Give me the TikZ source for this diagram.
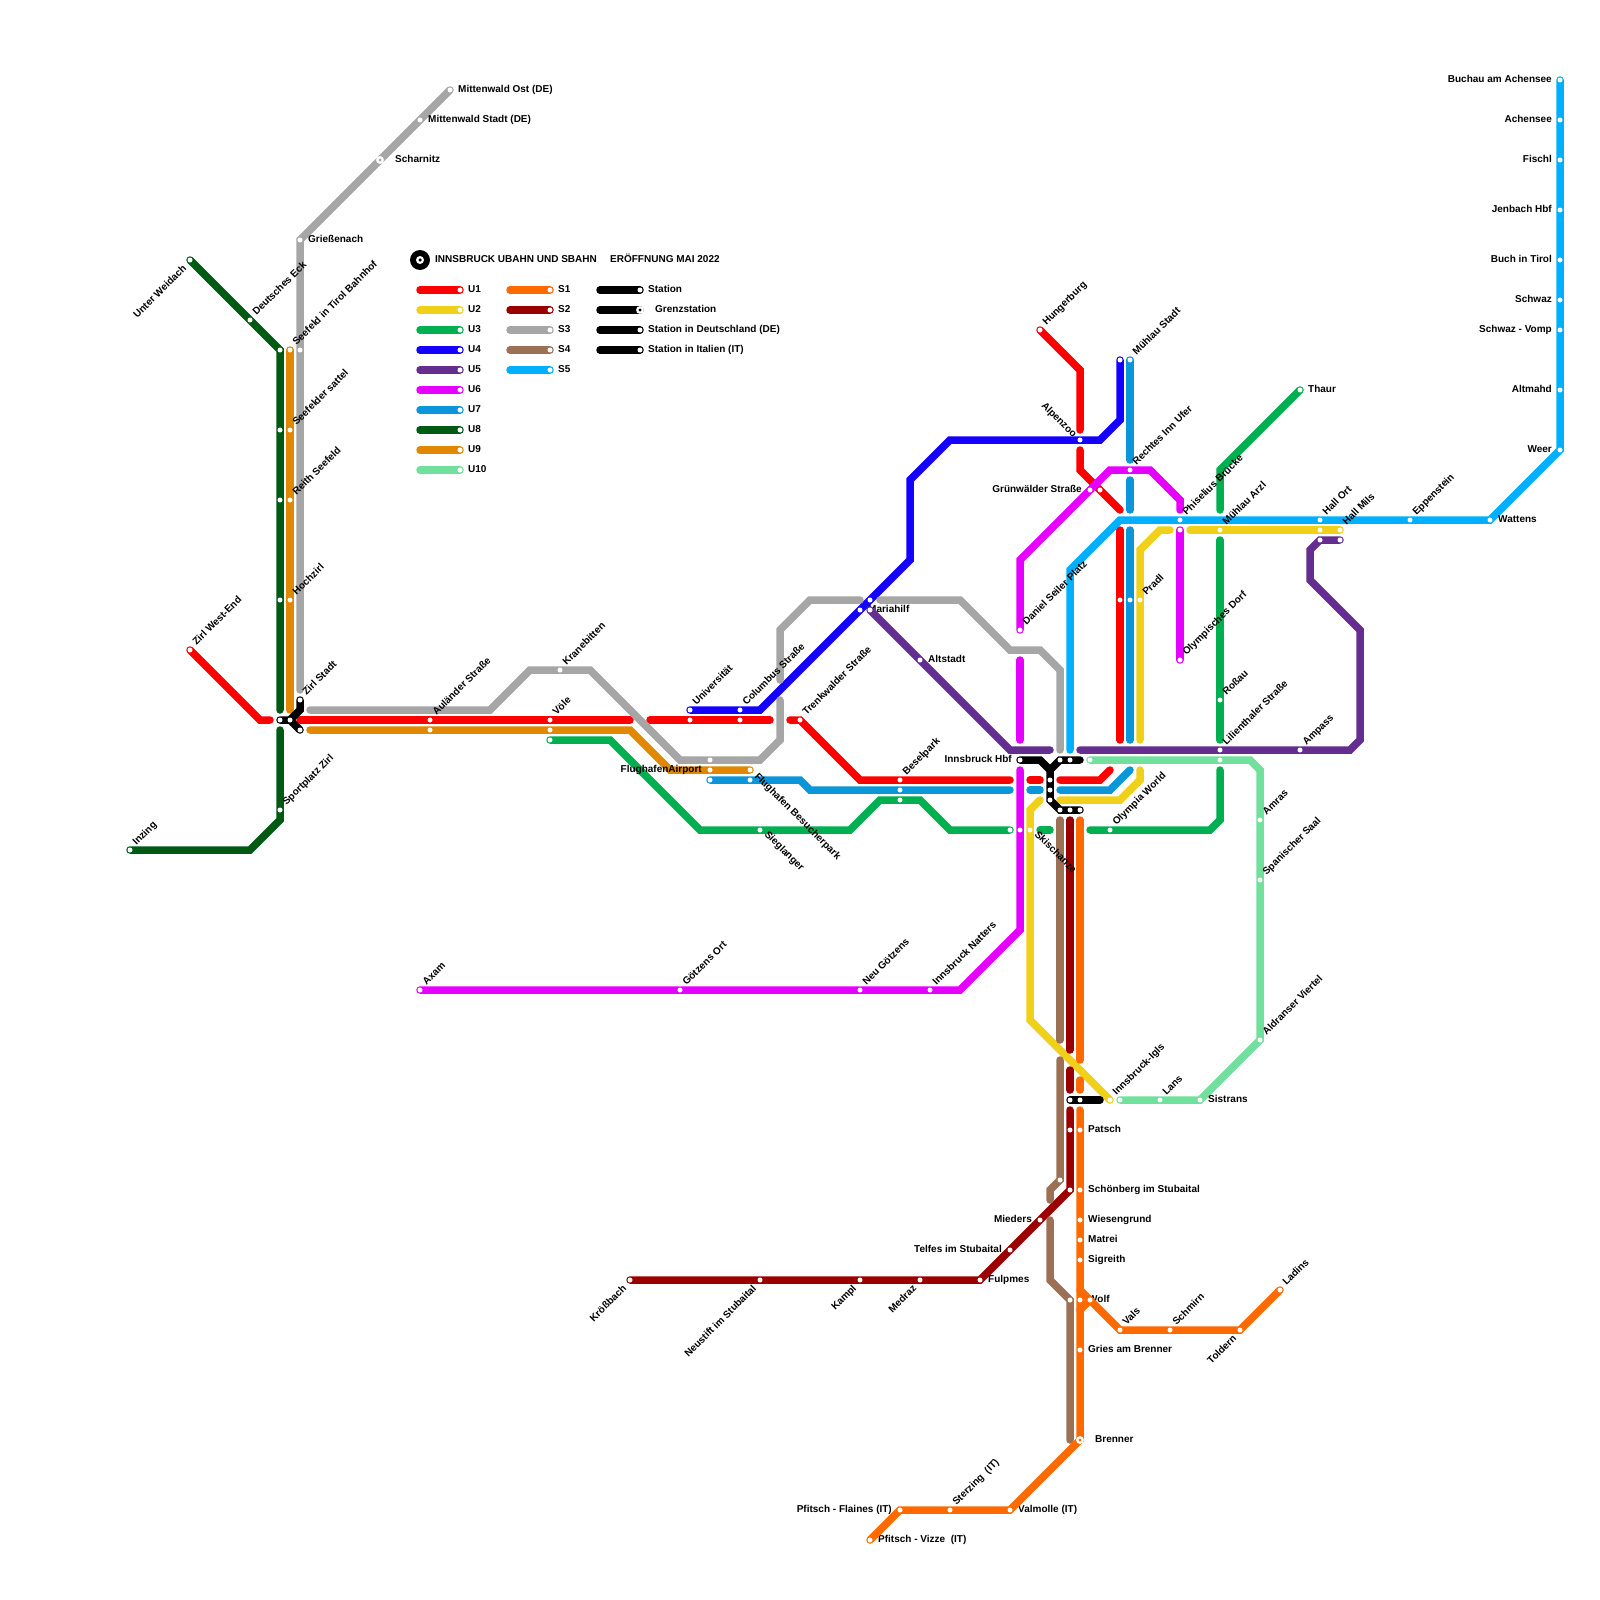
\documentclass[tikz,border=0pt]{standalone}
\usepackage{fontspec}
\setmainfont{Liberation Sans}
\definecolor{U1}{HTML}{FF0000}
\definecolor{U2}{HTML}{F0D018}
\definecolor{U3}{HTML}{00B050}
\definecolor{U4}{HTML}{1400FF}
\definecolor{U5}{HTML}{662D91}
\definecolor{U6}{HTML}{E600FF}
\definecolor{U7}{HTML}{0A96D8}
\definecolor{U8}{HTML}{005A14}
\definecolor{U9}{HTML}{E08800}
\definecolor{U10}{HTML}{70E09C}
\definecolor{S1}{HTML}{FF6A00}
\definecolor{S2}{HTML}{9B0000}
\definecolor{S3}{HTML}{A6A6A6}
\definecolor{S4}{HTML}{9C7055}
\definecolor{S5}{HTML}{00B0FF}
\pgfdeclarelayer{lines}
\pgfdeclarelayer{labels}
\pgfdeclarelayer{toplines}
\pgfsetlayers{lines,labels,toplines,main}
\tikzset{
  ln/.style={line width=7.5pt, line cap=round, draw=#1},
  stn/.style={circle, fill=white, inner sep=0pt, minimum size=5pt},
  grenz/.style={circle, draw=white, fill=#1, line width=2.2pt, inner sep=0pt, minimum size=5.5pt},
  lbl/.style={font=\bfseries\fontsize{10}{12}\selectfont, inner sep=0pt, text=black},
  lblr/.style={lbl, shift={(8pt,-2.8pt)}, anchor=base west},
  lblrr/.style={lbl, shift={(15pt,-2.8pt)}, anchor=base west},
  lbll/.style={lbl, shift={(-8pt,-2.8pt)}, anchor=base east},
  lblne/.style={lbl, shift={(6.5pt,4pt)}, rotate=45, anchor=base west},
  lblse/.style={lbl, shift={(4pt,3pt)}, rotate=-45, anchor=base west},
  lblsel/.style={lbl, shift={(4pt,-5pt)}, rotate=-45, anchor=base west},
  lblsw/.style={lbl, shift={(-3pt,-9pt)}, rotate=45, anchor=base east},
  lblnw/.style={lbl, shift={(-7pt,2pt)}, rotate=-45, anchor=base east},
}
\begin{document}
\begin{tikzpicture}[x=1pt, y=-1pt]
\useasboundingbox (0,0) rectangle (1600,1600);

% stations with a name on the map
\foreach \nm/\x/\y/\sty/\txt in {
  inzing/130/850/lblne/Inzing, sportplatz/280/810/lblne/Sportplatz Zirl, deutsch/250/320/lblne/Deutsches Eck,
  weidach/190/260/lblsw/Unter Weidach, zirlwest/190/650/lblne/Zirl West-End, zirlstadt/300/700/lblne/Zirl Stadt,
  seefeld/290/350/lblne/Seefeld in Tirol Bahnhof, sattel/290/430/lblne/Seefelder sattel,
  reith/290/500/lblne/Reith Seefeld, hochzirl/290/600/lblne/Hochzirl,
  mittost/450/90/lblr/Mittenwald Ost (DE), mittstadt/420/120/lblr/Mittenwald Stadt (DE), griessen/300/240/lblr/Grießenach,
  auland/430/720/lblne/Auländer Straße, voele/550/720/lblne/Völe, krane/560/670/lblne/Kranebitten,
  uni/690/710/lblne/Universität, columbus/740/710/lblne/Columbus Straße, trenk/800/720/lblne/Trenkwalder Straße,
  flug/710/770/lbll/FlughafenAirport, besuch/750/780/lblse/Flughafen Besucherpark, sieg/760/830/lblsel/Sieglanger,
  blumar/860/610/lblr/Mariahilf, altstadt/920/660/lblr/Altstadt, besel/900/780/lblne/Beselpark,
  axam/420/990/lblne/Axam, goetzens/680/990/lblne/Götzens Ort, neugoe/860/990/lblne/Neu Götzens, natters/930/990/lblne/Innsbruck Natters,
  hbf/1020/760/lbll/Innsbruck Hbf, ski/1030/830/lblsel/Skischanze, olympia/1110/830/lblne/Olympia World,
  daniel/1020/630/lblne/Daniel Seiler Platz, gruen/1090/490/lbll/Grünwälder Straße, alpen/1080/440/lblnw/Alpenzoo,
  hunger/1040/330/lblne/Hungerburg, muehlst/1130/360/lblne/Mühlau Stadt, rechtes/1130/470/lblne/Rechtes Inn Ufer,
  phis/1180/520/lblne/Phiselius Brücke, arzl/1220/530/lblne/Mühlau Arzl, hallort/1320/520/lblne/Hall Ort, hallmils/1340/530/lblne/Hall Mils,
  eppen/1410/520/lblne/Eppenstein, thaur/1300/390/lblr/Thaur, wattens/1490/520/lblr/Wattens, pradl/1140/600/lblne/Pradl,
  olydorf/1180/660/lblne/Olympisches Dorf, rossau/1220/700/lblne/Roßau, lili/1220/750/lblne/Lilienthaler Straße, ampass/1300/750/lblne/Ampass,
  amras/1260/820/lblne/Amras, spanisch/1260/880/lblne/Spanischer Saal, aldrans/1260/1040/lblne/Aldranser Viertel,
  sistrans/1200/1100/lblr/Sistrans, lans/1160/1100/lblne/Lans, igls/1110/1100/lblne/Innsbruck-Igls,
  patsch/1080/1130/lblr/Patsch, schoen/1080/1190/lblr/Schönberg im Stubaital, wiesen/1080/1220/lblr/Wiesengrund,
  matrei/1080/1240/lblr/Matrei, sigreith/1080/1260/lblr/Sigreith, wolf/1080/1300/lblr/Wolf, griesbr/1080/1350/lblr/Gries am Brenner,
  vals/1120/1330/lblne/Vals, schmirn/1170/1330/lblne/Schmirn, toldern/1240/1330/lblsw/Toldern, ladins/1280/1290/lblne/Ladins,
  valmolle/1010/1510/lblr/Valmolle (IT), sterzing/950/1510/lblne/Sterzing \ (IT), flaines/900/1510/lbll/Pfitsch - Flaines (IT), vizze/870/1540/lblr/Pfitsch - Vizze \ (IT),
  mieders/1040/1220/lbll/Mieders, telfes/1010/1250/lbll/Telfes im Stubaital, fulpmes/980/1280/lblr/Fulpmes,
  medraz/920/1280/lblsw/Medraz, kampl/860/1280/lblsw/Kampl, neustift/760/1280/lblsw/Neustift im Stubaital, kroess/630/1280/lblsw/Krößbach,
  buchau/1560/80/lbll/Buchau am Achensee, achensee/1560/120/lbll/Achensee, fischl/1560/160/lbll/Fischl, jenbach/1560/210/lbll/Jenbach Hbf,
  buch/1560/260/lbll/Buch in Tirol, schwaz/1560/300/lbll/Schwaz, vomp/1560/330/lbll/Schwaz - Vomp, altmahd/1560/390/lbll/Altmahd, weer/1560/450/lbll/Weer}{
  \node[stn] (\nm) at (\x,\y) {};
  \begin{pgfonlayer}{labels}
    \node[\sty] (\nm-txt) at (\nm) {\txt};
  \end{pgfonlayer}
}
% the other dots
\foreach \nm/\x/\y in {
  eightsee/280/350, eightsat/280/430, eightrei/280/500, eighthoc/280/600, threesee/300/350,
  zirla/280/720, zirlb/290/720, zirlc/300/730, nineaul/430/730, nineve/550/730, threeve/550/740,
  oneuni/690/720, onecol/740/720, threefl/710/760, nineflb/750/770, sevenfl/710/780,
  blumarb/870/600, purmar/870/610, sevenbes/900/790, threebes/900/800, onegruen/1100/490,
  hbfa/1060/760, hbfb/1070/760, hbfc/1050/780, hbfd/1050/790, hbfe/1050/800, hbff/1060/810, hbfg/1070/810, hbfh/1080/810,
  greenski/1010/830, sixski/1020/830, tenhbf/1090/760, tenlili/1220/760, tenigls/1120/1100,
  oneprad/1120/600, sevenprad/1130/600, fourmuehl/1120/360, sixphis/1180/530, twohall/1320/530, fivehall/1320/540, fivemils/1340/540,
  iglsa/1070/1100, iglsb/1080/1100, twopatsch/1070/1130, twoschoen/1070/1190, brownschoen/1060/1180, wolfa/1070/1300, wolfb/1090/1300}{
  \node[stn] (\nm) at (\x,\y) {};
}
\node[grenz=S3] (scharnitz) at (380,160) {};
\node[grenz=S1] (brenner) at (1080,1440) {};
\begin{pgfonlayer}{labels}
  \node[lblrr] (scharnitz-txt) at (scharnitz) {Scharnitz};
  \node[lblrr] (brenner-txt) at (brenner) {Brenner};
\end{pgfonlayer}

\begin{pgfonlayer}{lines}
% U1
\draw[ln=U1] (zirlwest.center) -- (260,720) -- (270,720);
\draw[ln=U1] (300,720) -- (auland.center) -- (voele.center) -- (630,720);
\draw[ln=U1] (650,720) -- (oneuni.center) -- (onecol.center) -- (770,720);
\draw[ln=U1] (790,720) -- (trenk.center) -- (860,780) -- (besel.center) -- (1010,780);
\draw[ln=U1] (1030,780) -- (1040,780);
\draw[ln=U1] (1060,780) -- (1100,780) -- (1110,770);
\draw[ln=U1] (hunger.center) -- (1080,370) -- (1080,430);
\draw[ln=U1] (1080,450) -- (1080,470) -- (onegruen.center) -- (1120,510);
\draw[ln=U1] (1120,530) -- (oneprad.center) -- (1120,740);
% U2
\draw[ln=U2] (1190,530) -- (arzl.center) -- (twohall.center) -- (hallmils.center);
\draw[ln=U2] (1170,530) -- (1160,530) -- (1140,550) -- (pradl.center) -- (1140,740);
\draw[ln=U2] (1140,770) -- (1140,780) -- (1120,800) -- (1060,800);
\draw[ln=U2] (1040,800) -- (1030,810) -- (ski.center) -- (1030,1020) -- (igls.center);
% U3
\draw[ln=U3] (threeve.center) -- (610,740) -- (700,830) -- (sieg.center) -- (850,830) -- (880,800) -- (threebes.center) -- (920,800) -- (950,830) -- (greenski.center);
\draw[ln=U3] (1040,830) -- (1050,830);
\draw[ln=U3] (1090,830) -- (olympia.center) -- (1210,830) -- (1220,820) -- (1220,770);
\draw[ln=U3] (1220,740) -- (rossau.center) -- (1220,540);
\draw[ln=U3] (1220,510) -- (1220,470) -- (thaur.center);
% U4
\draw[ln=U4] (uni.center) -- (columbus.center) -- (760,710) -- (blumar.center) -- (blumarb.center) -- (910,560) -- (910,480) -- (950,440) -- (alpen.center) -- (1100,440) -- (1120,420) -- (fourmuehl.center);
% U6
\draw[ln=U6] (axam.center) -- (goetzens.center) -- (neugoe.center) -- (natters.center) -- (960,990) -- (1020,930) -- (sixski.center) -- (1020,770);
\draw[ln=U6] (1020,740) -- (1020,660);
\draw[ln=U6] (daniel.center) -- (1020,560) -- (gruen.center) -- (1110,470) -- (1150,470) -- (1180,500) -- (1180,510);
\draw[ln=U6] (sixphis.center) -- (olydorf.center);
% U7
\draw[ln=U7] (sevenfl.center) -- (besuch.center) -- (800,780) -- (810,790) -- (sevenbes.center) -- (1010,790);
\draw[ln=U7] (1030,790) -- (1040,790);
\draw[ln=U7] (1060,790) -- (1110,790) -- (1130,770);
\draw[ln=U7] (muehlst.center) -- (1130,460);
\draw[ln=U7] (1130,480) -- (1130,510);
\draw[ln=U7] (1130,530) -- (sevenprad.center) -- (1130,740);
% U8
\draw[ln=U8] (inzing.center) -- (250,850) -- (280,820) -- (sportplatz.center) -- (280,730);
\draw[ln=U8] (280,710) -- (eighthoc.center) -- (eightrei.center) -- (eightsat.center) -- (eightsee.center) -- (deutsch.center) -- (weidach.center);
% U9
\draw[ln=U9] (seefeld.center) -- (sattel.center) -- (reith.center) -- (hochzirl.center) -- (290,710);
\draw[ln=U9] (310,730) -- (nineaul.center) -- (nineve.center) -- (630,730) -- (670,770) -- (flug.center) -- (nineflb.center);
% U10
\draw[ln=U10] (tenhbf.center) -- (tenlili.center) -- (1250,760) -- (1260,770) -- (amras.center) -- (spanisch.center) -- (aldrans.center) -- (sistrans.center) -- (lans.center) -- (tenigls.center);
% S2
\draw[ln=S2] (1070,820) -- (1070,1050);
\draw[ln=S2] (1070,1070) -- (1070,1090);
\draw[ln=S2] (1070,1110) -- (twopatsch.center) -- (twoschoen.center) -- (mieders.center) -- (telfes.center) -- (fulpmes.center) -- (medraz.center) -- (kampl.center) -- (neustift.center) -- (kroess.center);
% S3
\draw[ln=S3] (mittost.center) -- (mittstadt.center) -- (scharnitz.center) -- (griessen.center) -- (threesee.center) -- (300,690);
\draw[ln=S3] (310,710) -- (490,710) -- (530,670) -- (krane.center) -- (590,670) -- (680,760) -- (threefl.center) -- (760,760) -- (780,740) -- (780,700);
\draw[ln=S3] (780,680) -- (780,630) -- (810,600) -- (860,600);
\draw[ln=S3] (880,600) -- (960,600) -- (1010,650) -- (1040,650) -- (1060,670) -- (1060,750);
% S4
\draw[ln=S4] (1060,820) -- (1060,1040);
\draw[ln=S4] (1060,1060) -- (brownschoen.center) -- (1050,1190) -- (1050,1200);
\draw[ln=S4] (1050,1220) -- (1050,1280) -- (wolfa.center) -- (1070,1440);
% S5
\draw[ln=S5] (buchau.center) -- (achensee.center) -- (fischl.center) -- (jenbach.center) -- (buch.center) -- (schwaz.center) -- (vomp.center) -- (altmahd.center) -- (weer.center) -- (wattens.center) -- (eppen.center) -- (hallort.center) -- (phis.center) -- (1120,520) -- (1070,570) -- (1070,750);
\end{pgfonlayer}

\begin{pgfonlayer}{toplines}
% U5
\draw[ln=U5] (purmar.center) -- (altstadt.center) -- (1010,750) -- (1050,750);
\draw[ln=U5] (1080,750) -- (lili.center) -- (ampass.center) -- (1350,750) -- (1360,740) -- (1360,630) -- (1310,580) -- (1310,550) -- (fivehall.center) -- (fivemils.center);
% S1
\draw[ln=S1] (1080,820) -- (1080,1060);
\draw[ln=S1] (1080,1080) -- (1080,1090);
\draw[ln=S1] (1080,1110) -- (patsch.center) -- (schoen.center) -- (wiesen.center) -- (matrei.center) -- (sigreith.center) -- (wolf.center) -- (griesbr.center) -- (brenner.center) -- (valmolle.center) -- (sterzing.center) -- (flaines.center) -- (vizze.center);
\draw[ln=S1] (1080,1290) -- (wolfb.center) -- (vals.center) -- (schmirn.center) -- (toldern.center) -- (ladins.center);
\draw[ln=S1] (wolfb.center) -- (1080,1310);
% black links
\draw[ln=black] (zirla.center) -- (zirlb.center) -- (300,710) -- (zirlstadt.center);
\draw[ln=black] (zirlb.center) -- (zirlc.center);
\draw[ln=black] (hbf.center) -- (1040,760) -- (1050,770) -- (hbfa.center) -- (hbfb.center) -- (1080,760);
\draw[ln=black] (1050,770) -- (hbfc.center) -- (hbfd.center) -- (hbfe.center) -- (hbff.center) -- (hbfg.center) -- (hbfh.center);
\draw[ln=black] (iglsa.center) -- (iglsb.center) -- (1100,1100);
\end{pgfonlayer}

% key
\node[circle, fill=black, inner sep=0pt, minimum size=20pt] (logo) at (420,260) {};
\node[circle, fill=white, inner sep=0pt, minimum size=8pt] (logoring) at (logo) {};
\node[circle, fill=black, inner sep=0pt, minimum size=3.5pt] (logodot) at (logo) {};
\node[lbl, anchor=base west] (title) at (435,262.8) {INNSBRUCK UBAHN UND SBAHN};
\node[lbl, anchor=base west] (opening) at (610,262.8) {ERÖFFNUNG MAI 2022};
\foreach \nm/\y in {U1/290, U2/310, U3/330, U4/350, U5/370, U6/390, U7/410, U8/430, U9/450, U10/470}{
  \coordinate (key\nm-a) at (420,\y);
  \node[stn] (key\nm) at (460,\y) {};
  \node[lblr] (key\nm-txt) at (key\nm) {\nm};
  \begin{pgfonlayer}{lines}
    \draw[ln=\nm] (key\nm-a) -- (key\nm.center);
  \end{pgfonlayer}
}
\foreach \nm/\y in {S1/290, S2/310, S3/330, S4/350, S5/370}{
  \coordinate (key\nm-a) at (510,\y);
  \node[stn] (key\nm) at (550,\y) {};
  \node[lblr] (key\nm-txt) at (key\nm) {\nm};
  \begin{pgfonlayer}{lines}
    \draw[ln=\nm] (key\nm-a) -- (key\nm.center);
  \end{pgfonlayer}
}
\foreach \nm/\y/\txt in {stna/290/Station, stnc/330/Station in Deutschland (DE), stnd/350/Station in Italien (IT)}{
  \coordinate (key\nm-a) at (600,\y);
  \node[stn] (key\nm) at (640,\y) {};
  \node[lblr] (key\nm-txt) at (key\nm) {\txt};
  \begin{pgfonlayer}{lines}
    \draw[ln=black] (key\nm-a) -- (key\nm.center);
  \end{pgfonlayer}
}
\coordinate (keystnb-a) at (600,310);
\node[grenz=black] (keystnb) at (640,310) {};
\node[lblrr] (keystnb-txt) at (keystnb) {Grenzstation};
\begin{pgfonlayer}{lines}
  \draw[ln=black] (keystnb-a) -- (keystnb.center);
\end{pgfonlayer}
\end{tikzpicture}
\end{document}
